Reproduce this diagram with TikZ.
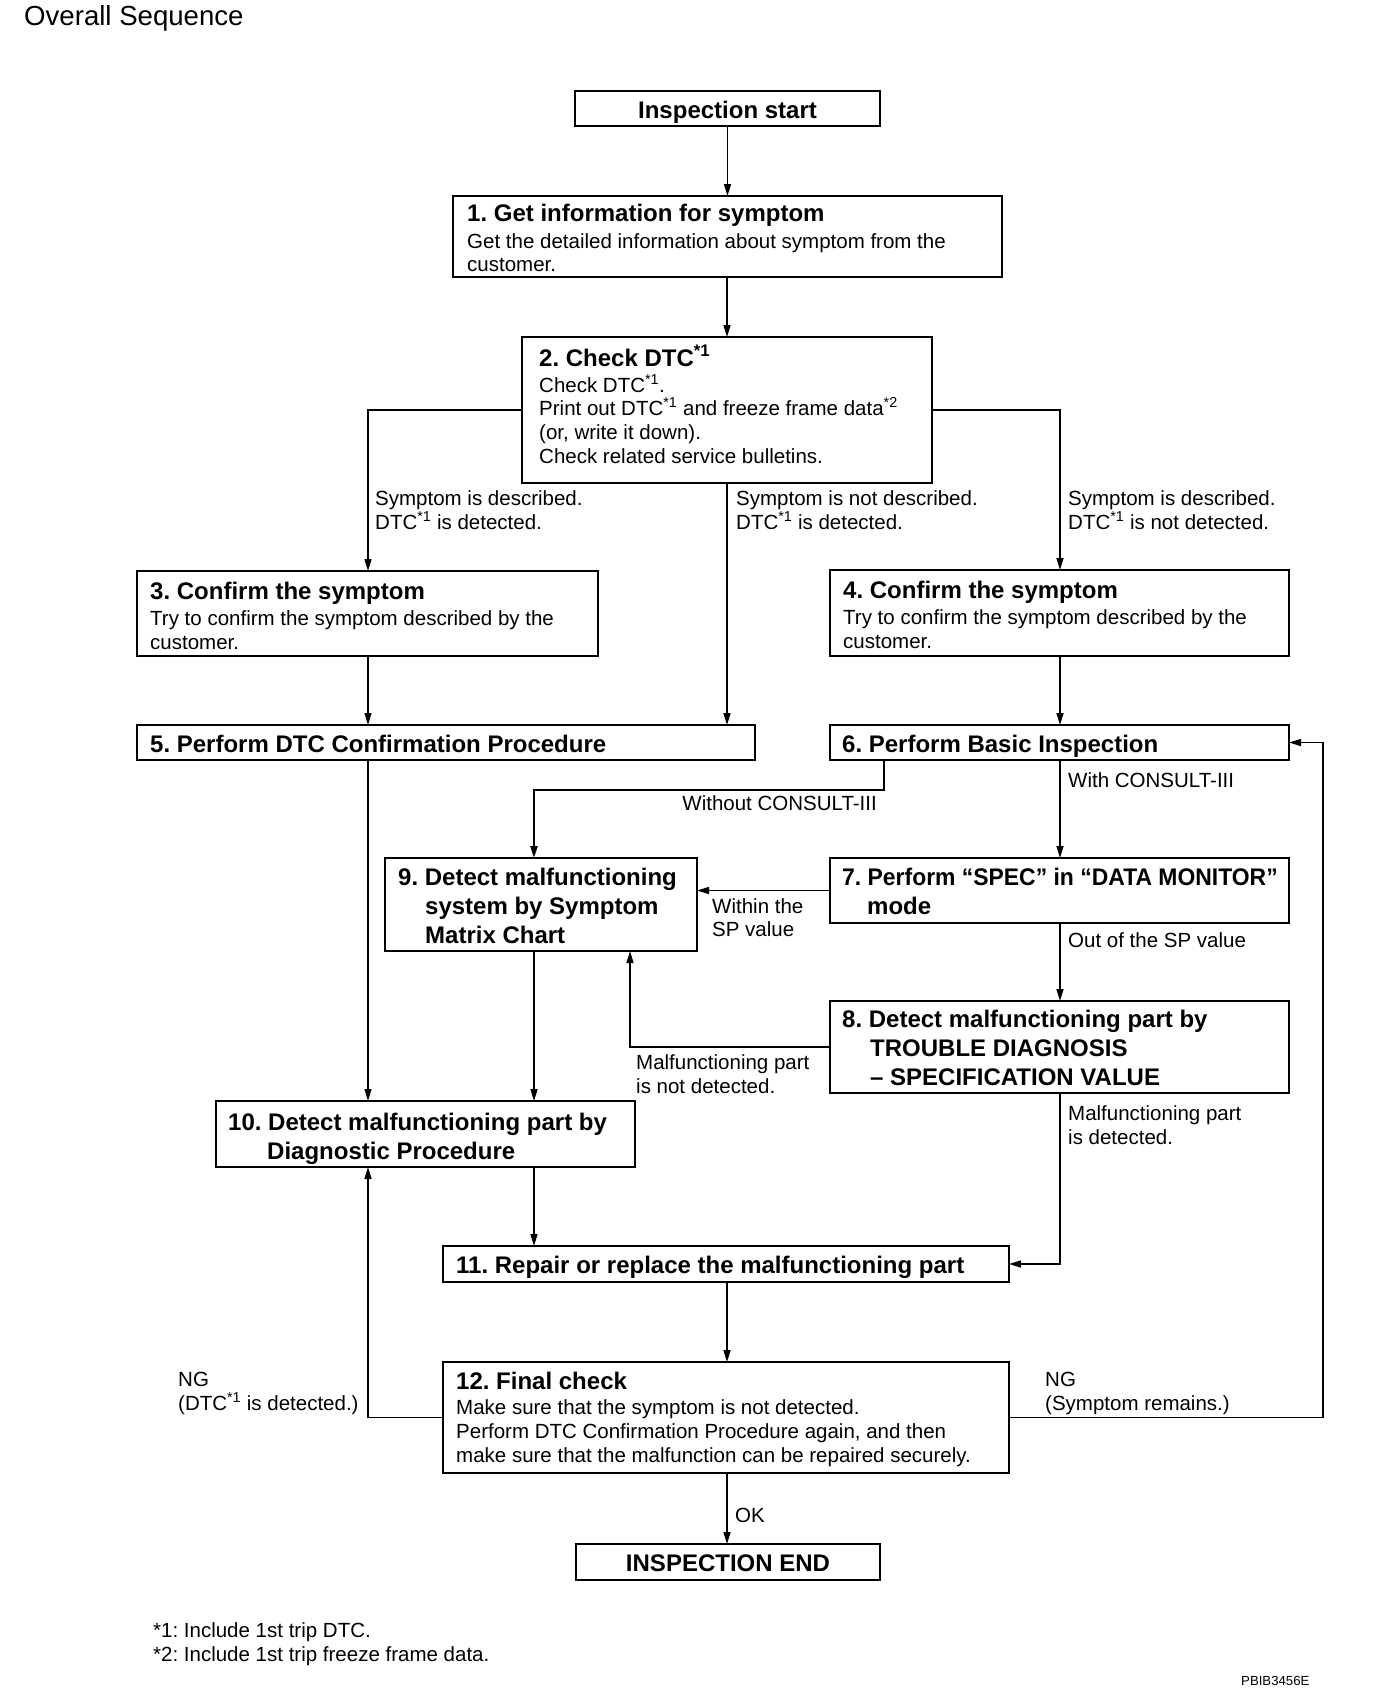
\documentclass[tikz,border=0pt]{standalone}
\usepackage{fontspec}
\setmainfont{Liberation Sans}
\usetikzlibrary{arrows.meta,calc}
\newcommand\mkbox[5]{\node[box, minimum width=#4pt, minimum height=#5pt] (#1) at (#2,#3) {};}
\newcommand\sst{\textsuperscript{*1}}
\begin{document}
\frenchspacing
\begin{tikzpicture}[x=1pt,y=-1pt,
  box/.style={draw, line width=2pt, anchor=north west, inner sep=0pt, outer sep=0pt},
  ttl/.style={anchor=base west, inner sep=0pt, font=\fontsize{24}{28}\selectfont\bfseries},
  bdy/.style={anchor=base west, inner sep=0pt, font=\fontsize{20.5}{24}\selectfont},
  conn/.style={line width=1.5pt, -{Triangle[length=12pt,width=7pt]}},
  ln/.style={line width=1.5pt}]
\useasboundingbox (0,0) rectangle (1392,1694);
% guide coordinates
\coordinate (xL) at (368,0);
\coordinate (xC) at (727,0);
\coordinate (xM) at (534,0);
\coordinate (xR) at (1060,0);
\coordinate (xW) at (884,0);
\coordinate (xN) at (630,0);
\coordinate (xF) at (1323,0);
\coordinate (yW) at (0,790);

\node[anchor=base west, inner sep=0pt, font=\fontsize{27.6}{32}\selectfont] (title) at (24,26) {Overall Sequence};

% boxes
\mkbox{st}{575}{91}{305}{35}
\mkbox{b1}{453}{196}{549}{81}
\mkbox{b2}{522}{337}{410}{146}
\mkbox{b3}{137}{571}{461}{85}
\mkbox{b4}{830}{570}{459}{86}
\mkbox{b5}{137}{725}{618}{35}
\mkbox{b6}{830}{725}{459}{35}
\mkbox{b9}{385}{858}{312}{93}
\mkbox{b7}{830}{858}{459}{65}
\mkbox{b8}{830}{1001}{459}{92}
\mkbox{b10}{216}{1101}{419}{66}
\mkbox{b11}{443}{1246}{566}{36}
\mkbox{b12}{443}{1362}{566}{111}
\mkbox{en}{576}{1544}{304}{36}

% texts
\node[ttl, anchor=base] (tst) at (727.5,118) {Inspection start};
\node[ttl] (t1a) at (467,221) {1. Get information for symptom};
\node[bdy] (t1b) at (467,248) {Get the detailed information about symptom from the};
\node[bdy] (t1c) at (467,271) {customer.};

\node[ttl] (t2a) at (539,366) {2. Check DTC\sst};
\node[bdy] (t2b) at (539,392) {Check DTC\sst.};
\node[bdy] (t2c) at (539,415) {Print out DTC\sst{} and freeze frame data\textsuperscript{*2}};
\node[bdy] (t2d) at (539,439) {(or, write it down).};
\node[bdy] (t2e) at (539,463) {Check related service bulletins.};

\node[ttl] (t3a) at (150,599) {3. Confirm the symptom};
\node[bdy] (t3b) at (150,625) {Try to confirm the symptom described by the};
\node[bdy] (t3c) at (150,649) {customer.};

\node[ttl] (t4a) at (843,598) {4. Confirm the symptom};
\node[bdy] (t4b) at (843,624) {Try to confirm the symptom described by the};
\node[bdy] (t4c) at (843,648) {customer.};

\node[ttl] (t5) at (150,752) {5. Perform DTC Confirmation Procedure};
\node[ttl] (t6) at (842,752) {6. Perform Basic Inspection};

\node[ttl] (t7a) at (842,885) {\scalebox{0.955}[1]{7. Perform “SPEC” in “DATA MONITOR”}};
\node[ttl] (t7b) at (867,914) {mode};

\node[ttl] (t8a) at (842,1027) {8. Detect malfunctioning part by};
\node[ttl] (t8b) at (870,1056) {TROUBLE DIAGNOSIS};
\node[ttl] (t8c) at (870,1085) {– SPECIFICATION VALUE};

\node[ttl] (t9a) at (398,885) {9. Detect malfunctioning};
\node[ttl] (t9b) at (425,914) {system by Symptom};
\node[ttl] (t9c) at (425,943) {Matrix Chart};

\node[ttl] (t10a) at (228,1130) {10. Detect malfunctioning part by};
\node[ttl] (t10b) at (267,1159) {Diagnostic Procedure};

\node[ttl] (t11) at (456,1273) {11. Repair or replace the malfunctioning part};

\node[ttl] (t12a) at (456,1389) {12. Final check};
\node[bdy] (t12b) at (456,1414) {Make sure that the symptom is not detected.};
\node[bdy] (t12c) at (456,1438) {Perform DTC Confirmation Procedure again, and then};
\node[bdy] (t12d) at (456,1462) {make sure that the malfunction can be repaired securely.};

\node[ttl, anchor=base] (ten) at (728,1571) {INSPECTION END};

% labels
\node[bdy] (l1a) at (375,505) {Symptom is described.};
\node[bdy] (l1b) at (375,529) {DTC\sst{} is detected.};
\node[bdy] (l2a) at (736,505) {Symptom is not described.};
\node[bdy] (l2b) at (736,529) {DTC\sst{} is detected.};
\node[bdy] (l3a) at (1068,505) {Symptom is described.};
\node[bdy] (l3b) at (1068,529) {DTC\sst{} is not detected.};
\node[bdy, anchor=base east] (l4) at (877,810) {Without CONSULT-III};
\node[bdy] (l5) at (1068,787) {With CONSULT-III};
\node[bdy] (l6a) at (712,913) {Within the};
\node[bdy] (l6b) at (712,936) {SP value};
\node[bdy] (l7) at (1068,947) {Out of the SP value};
\node[bdy] (l8a) at (636,1069) {Malfunctioning part};
\node[bdy] (l8b) at (636,1093) {is not detected.};
\node[bdy] (l9a) at (1068,1120) {Malfunctioning part};
\node[bdy] (l9b) at (1068,1144) {is detected.};
\node[bdy] (l10a) at (178,1386) {NG};
\node[bdy] (l10b) at (178,1410) {(DTC\sst{} is detected.)};
\node[bdy] (l11a) at (1045,1386) {NG};
\node[bdy] (l11b) at (1045,1410) {(Symptom remains.)};
\node[bdy] (l12) at (735,1522) {OK};

\node[bdy] (f1) at (153,1637) {*1: Include 1st trip DTC.};
\node[bdy] (f2) at (153,1661) {*2: Include 1st trip freeze frame data.};
\node[anchor=base west, inner sep=0pt, font=\fontsize{13.2}{15}\selectfont] (code) at (1241,1685) {PBIB3456E};

% connectors
\draw[conn] (st.south) -- (st.south |- b1.north);
\draw[conn] (xC |- b1.south) -- (xC |- b2.north);
\draw[conn] (b2.west) -| (xL |- b3.north);
\draw[conn] (xC |- b2.south) -- (xC |- b5.north);
\draw[conn] (b2.east) -| (xR |- b4.north);
\draw[conn] (xL |- b3.south) -- (xL |- b5.north);
\draw[conn] (xR |- b4.south) -- (xR |- b6.north);
\draw[conn] (xL |- b5.south) -- (xL |- b10.north);
\draw[conn, line width=2.5pt] (xW |- b6.south) |- (xM |- yW) -- (xM |- b9.north);
\draw[conn] (xR |- b6.south) -- (xR |- b7.north);
\draw[conn] (b7.west) -- (b7.west -| b9.east);
\draw[conn] (xR |- b7.south) -- (xR |- b8.north);
\draw[conn] (b8.west) -| (xN |- b9.south);
\draw[conn] (xM |- b9.south) -- (xM |- b10.north);
\draw[conn] (xR |- b8.south) |- (b11.east);
\draw[conn] (xM |- b10.south) -- (xM |- b11.north);
\draw[conn] (xC |- b11.south) -- (xC |- b12.north);
\draw[conn] (b12.west) -| (xL |- b10.south);
\draw[conn] (b12.east) -| (xF |- b6.east) -- (b6.east);
\draw[conn] (xC |- b12.south) -- (xC |- en.north);
\end{tikzpicture}
\end{document}
